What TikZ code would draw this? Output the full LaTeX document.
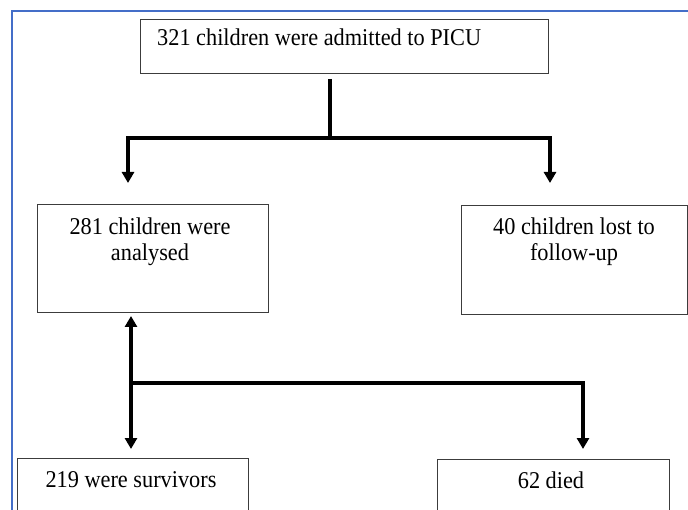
\documentclass[tikz,border=0pt]{standalone}
\usepackage{fontspec}
\setmainfont{Liberation Serif}
\usetikzlibrary{arrows.meta}
\definecolor{frameblue}{RGB}{68,110,200}
\definecolor{boxgray}{RGB}{60,60,60}
\newcommand{\tall}[1]{\scalebox{1}[1.08]{#1}}
\tikzset{
  box/.style={draw=boxgray, line width=1.2pt, rectangle, inner sep=0pt, anchor=north west},
  txt/.style={inner sep=0pt, font={\fontsize{22.3}{26}\selectfont}, text=black},
  conn/.style={line width=4pt, draw=black, arrows={-Triangle[width=12pt,length=11pt]}},
  connboth/.style={line width=4pt, draw=black, arrows={Triangle[width=12pt,length=11pt]-Triangle[width=12pt,length=11pt]}},
  plain/.style={line width=4pt, draw=black}
}
\begin{document}
\begin{tikzpicture}[x=1pt,y=-1pt]
\useasboundingbox (0,0) rectangle (688,510);
\clip (0,0) rectangle (688,510);
\fill[white] (0,0) rectangle (688,510);
% frame
\draw[frameblue, line width=2pt] (11.5,11.5) rectangle (720,540);
% boxes
\node[box, minimum width=408pt, minimum height=54pt] (top) at (140,19) {};
\node[txt, anchor=base west] (toptxt) at (157,46) {\tall{321 children were admitted to PICU}};
\node[box, minimum width=231pt, minimum height=108pt] (ana) at (37,204) {};
\node[txt, anchor=north, align=center] (anatxt) at (150,217.7) {\tall{281 children were}\\\tall{analysed}};
\node[box, minimum width=226pt, minimum height=109pt] (lost) at (461,205) {};
\node[txt, anchor=north, align=center] (losttxt) at (574,217.7) {\tall{40 children lost to}\\\tall{follow-up}};
\node[box, minimum width=231pt, minimum height=80pt] (surv) at (17,458) {};
\node[txt, anchor=base] (survtxt) at (131,487) {\tall{219 were survivors}};
\node[box, minimum width=232pt, minimum height=80pt] (died) at (437,459) {};
\node[txt, anchor=base] (diedtxt) at (551,488) {\tall{62 died}};
% connectors, top group
\coordinate (t1) at (330,79);
\coordinate (j1) at (330,138);
\coordinate (a1) at (128,183);
\coordinate (a2) at (550,183);
\draw[plain] (t1) -- ([yshift=-2pt]j1);
\draw[connboth] (a1) |- (j1) -| (a2);
% connectors, bottom group
\coordinate (u1) at (131,316);
\coordinate (d1) at (131,449);
\coordinate (j2) at (131,383);
\coordinate (d2) at (583,449);
\draw[connboth] (u1) -- (d1);
\draw[conn] (j2) -| (d2);
\end{tikzpicture}
\end{document}
